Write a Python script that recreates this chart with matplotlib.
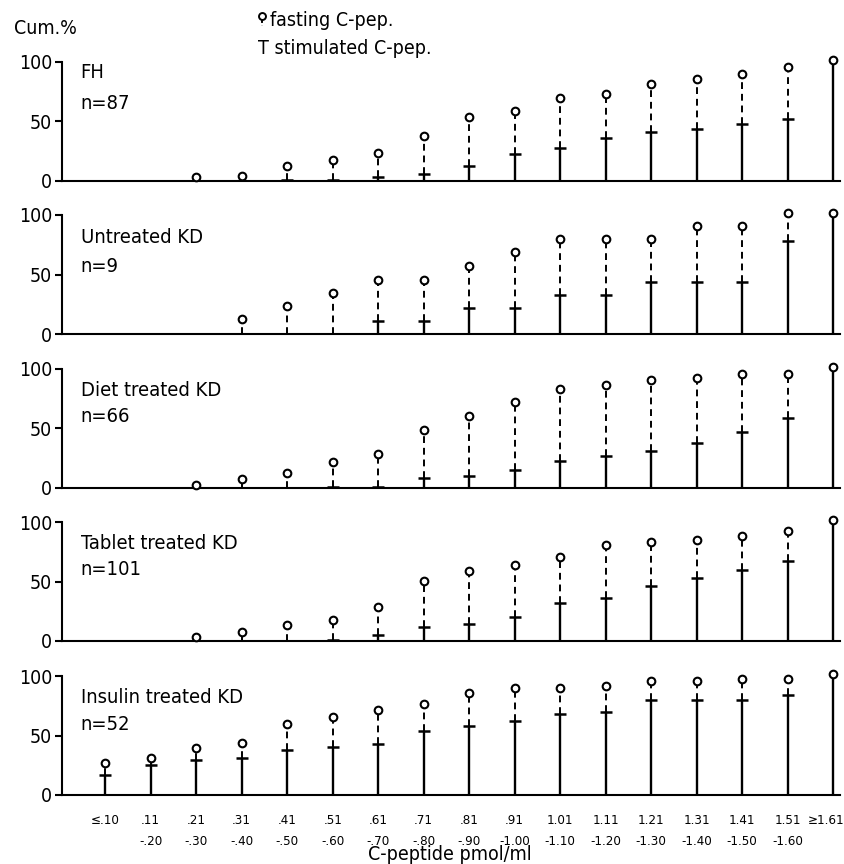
import numpy as np
import matplotlib
matplotlib.use('Agg')
import matplotlib.pyplot as plt
from matplotlib.transforms import ScaledTranslation

plt.rcParams['font.family'] = ['DejaVu Sans']
plt.rcParams['font.stretch'] = 'condensed'

# x categories (C-peptide pmol/ml)
categories = ['≤.10', '.11\n-.20', '.21\n-.30', '.31\n-.40', '.41\n-.50', '.51\n-.60',
              '.61\n-.70', '.71\n-.80', '.81\n-.90', '.91\n-1.00', '1.01\n-1.10',
              '1.11\n-1.20', '1.21\n-1.30', '1.31\n-1.40', '1.41\n-1.50', '1.51\n-1.60', '≥1.61']

# cumulative % per group
fh_fast = [0, 0, 2, 3, 11, 16, 22, 36, 52, 57, 68, 72, 80, 84, 88, 94, 100]
fh_stim = [0, 0, 0, 0, 1, 1, 3, 6, 13, 23, 28, 36, 41, 44, 48, 52, 100]
untr_fast = [0, 0, 0, 11, 22, 33, 44, 44, 56, 67, 78, 78, 78, 89, 89, 100, 100]
untr_stim = [0, 0, 0, 0, 0, 0, 11, 11, 22, 22, 33, 33, 44, 44, 44, 78, 100]
diet_fast = [0, 0, 1, 6, 11, 20, 27, 47, 59, 71, 82, 85, 89, 91, 94, 94, 100]
diet_stim = [0, 0, 0, 0, 0, 1, 1, 8, 10, 15, 23, 27, 31, 38, 47, 59, 100]
tab_fast = [0, 0, 2, 6, 12, 16, 27, 49, 57, 62, 69, 79, 82, 83, 87, 91, 100]
tab_stim = [0, 0, 0, 0, 0, 1, 5, 12, 14, 20, 32, 36, 46, 53, 60, 67, 100]
ins_fast = [25, 30, 38, 42, 58, 64, 70, 75, 84, 88, 88, 90, 94, 94, 96, 96, 100]
ins_stim = [17, 25, 29, 31, 38, 40, 43, 54, 58, 62, 68, 70, 80, 80, 80, 84, 100]

groups = ['FH', 'Untreated KD', 'Diet treated KD', 'Tablet treated KD', 'Insulin treated KD']
group_n = [87, 9, 66, 101, 52]
fasting = [fh_fast, untr_fast, diet_fast, tab_fast, ins_fast]
stimulated = [fh_stim, untr_stim, diet_stim, tab_stim, ins_stim]

# label positions (axes coords) for name / n lines
label_y = [(0.91, 0.655), (0.815, 0.57), (0.82, 0.60), (0.82, 0.60), (0.82, 0.59)]

W, H = 845, 864
fig = plt.figure(figsize=(W / 100, H / 100), dpi=100)

x = np.arange(1, len(categories) + 1)
zero_px = [181, 334, 488, 641, 795]
panel_h = 119
left_px, right_px = 62, 840

for k in range(5):
    ax = fig.add_axes([left_px / W, 1 - zero_px[k] / H, (right_px - left_px) / W, panel_h / H])
    f = np.array(fasting[k], dtype=float)
    s = np.array(stimulated[k], dtype=float)
    for xi, fv, sv in zip(x, f, s):
        if sv > 0:
            ax.plot([xi, xi], [0, sv], color='black', lw=1.7, solid_capstyle='butt', clip_on=False)
            if sv < 100:
                ax.plot(xi, sv, marker='_', ms=8, mew=1.8, color='black', clip_on=False)
        if fv > sv:
            ax.plot([xi, xi], [sv, fv], color='black', lw=1.4, ls=(0, (3.5, 2.5)), clip_on=False)
        if fv > 0:
            ax.plot(xi, fv + 1.5, marker='o', ms=5.5, mew=1.5, mfc='white', mec='black',
                    clip_on=False, zorder=5)
    ax.set_xlim(0.05, 17.15)
    ax.set_ylim(0, 100)
    ax.spines['top'].set_visible(False)
    ax.spines['right'].set_visible(False)
    ax.spines['left'].set_bounds(0, 100)
    ax.spines['left'].set_linewidth(1.5)
    ax.spines['bottom'].set_linewidth(1.5)
    ax.set_yticks([0, 50, 100])
    ax.tick_params(axis='y', direction='out', length=5, width=1.5, labelsize=14, pad=2)
    ax.set_facecolor('none')
    if k == 4:
        ax.set_xticks(x)
        lbls = ax.set_xticklabels(categories, fontsize=9.5, linespacing=1.75, va='top')
        ax.tick_params(axis='x', length=0, pad=14)
        last = lbls[-1]
        last.set_ha('right')
        last.set_transform(last.get_transform() + ScaledTranslation(0.11, 0, fig.dpi_scale_trans))
    else:
        ax.set_xticks([])
    ax.text(0.024, label_y[k][0], groups[k], transform=ax.transAxes, fontsize=14.5, va='center')
    ax.text(0.024, label_y[k][1], 'n=%d' % group_n[k], transform=ax.transAxes, fontsize=14.5,
            va='center')

fig.text(14 / W, 1 - 28 / H, 'Cum.%', fontsize=14, va='center')
fig.text(270 / W, 1 - 20 / H, 'fasting C-pep.', fontsize=14, va='center')
fig.text(258 / W, 1 - 48 / H, 'T stimulated C-pep.', fontsize=14, va='center')
fig.lines.append(plt.Line2D([262 / W], [1 - 16 / H], marker='o', ms=5, mew=1.4, mfc='white',
                            mec='black', transform=fig.transFigure))
fig.lines.append(plt.Line2D([262 / W, 262 / W], [1 - 20 / H, 1 - 26 / H], lw=1.4, color='black',
                            ls=(0, (1.5, 1.5)), transform=fig.transFigure))
fig.text(450 / W, 1 - 855 / H, 'C-peptide pmol/ml', fontsize=14, ha='center', va='center')

fig.savefig('out.png', dpi=100, facecolor='white')
